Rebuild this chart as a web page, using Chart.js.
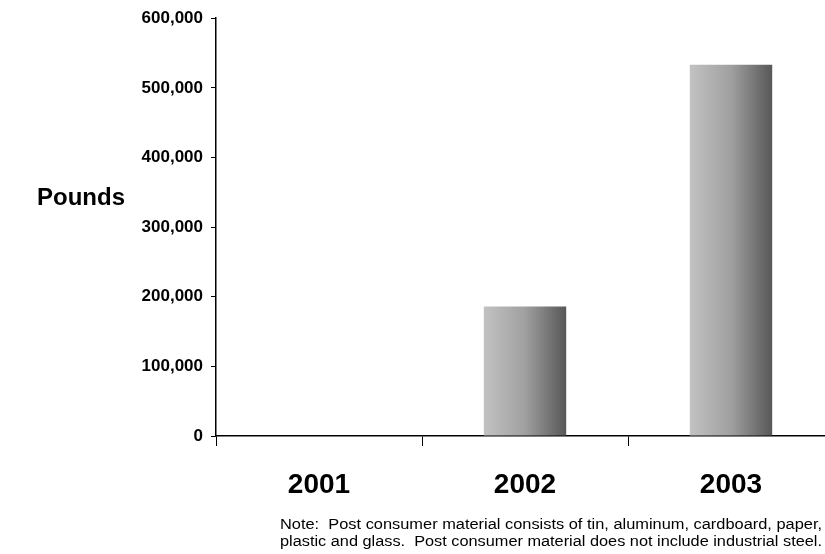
<!DOCTYPE html>
<html>
<head>
<meta charset="utf-8">
<script src="https://cdn.jsdelivr.net/npm/chart.js@4.4.0/dist/chart.umd.min.js"></script>
<style>
  html, body { margin: 0; padding: 0; overflow: hidden; background: #fff; }
  #wrap { position: relative; width: 836px; height: 554px; }
</style>
</head>
<body>
<div id="wrap"><canvas id="myChartCanvas" width="836" height="554"></canvas></div>
<script>
let yearLabels = ['2001', '2002', '2003'];
let poundValues = [0, 186000, 533000];
let yAxisTitle = 'Pounds';
let noteLines = [
    'Note:  Post consumer material consists of tin, aluminum, cardboard, paper,',
    'plastic and glass.  Post consumer material does not include industrial steel.'
];

let ctx;
let chart;

// gradient per bar, light on the left and dark on the right
function barGradient(context) {
    let c = context.chart;
    let xScale = c.scales.x;
    if (!c.chartArea || !xScale) {
        return '#a0a0a0';
    }
    let center = xScale.getPixelForValue(context.dataIndex);
    let half = (xScale.width / yearLabels.length) * 0.4 / 2;
    let g = c.ctx.createLinearGradient(center - half, 0, center + half, 0);
    g.addColorStop(0, '#c2c2c2');
    g.addColorStop(0.5, '#a0a0a0');
    g.addColorStop(1, '#575757');
    return g;
}

// "Pounds" label and the note under the chart
const extraText = {
    id: 'extraText',
    afterDraw(c) {
        let cx = c.ctx;
        cx.save();
        cx.fillStyle = '#000';
        cx.textBaseline = 'alphabetic';
        cx.textAlign = 'left';
        cx.font = 'bold 24px "Liberation Sans", Arial, sans-serif';
        cx.fillText(yAxisTitle, 37, 205);

        // the note is set a bit wide in the original, stretch it to fit
        cx.font = '14px "Liberation Sans", Arial, sans-serif';
        let lineY = [529, 546];
        noteLines.forEach(function (line, i) {
            let w = cx.measureText(line).width;
            let sx = 542 / w;
            cx.save();
            cx.translate(280, lineY[i]);
            cx.scale(sx, 1);
            cx.fillText(line, 0, 0);
            cx.restore();
        });
        cx.restore();
    }
};

ctx = document.getElementById('myChartCanvas').getContext('2d');
chart = new Chart(ctx, {
    type: 'bar',
    data: {
        labels: yearLabels,
        datasets: [{
            data: poundValues,
            backgroundColor: barGradient,
            borderWidth: 0,
            categoryPercentage: 1,
            barPercentage: 0.4
        }]
    },
    options: {
        responsive: false,
        animation: false,
        layout: {
            padding: { left: 0, right: 2, top: 15, bottom: 0 }
        },
        plugins: {
            legend: { display: false },
            tooltip: { enabled: false }
        },
        scales: {
            x: {
                grid: {
                    display: true,
                    offset: true,
                    drawOnChartArea: false,
                    drawTicks: true,
                    tickLength: 10,
                    color: '#000'
                },
                border: { display: true, color: '#000', width: 1.5 },
                ticks: {
                    color: '#000',
                    padding: 22,
                    font: { family: '"Liberation Sans", Arial, sans-serif', size: 28, weight: 'bold' }
                },
                afterFit: function (s) { s.height = 118; }
            },
            y: {
                min: 0,
                max: 600000,
                grid: {
                    display: true,
                    drawOnChartArea: false,
                    drawTicks: true,
                    tickLength: 5,
                    color: '#000'
                },
                border: { display: true, color: '#000', width: 1.5 },
                ticks: {
                    stepSize: 100000,
                    color: '#000',
                    padding: 8,
                    font: { family: '"Liberation Sans", Arial, sans-serif', size: 17, weight: 'bold' },
                    callback: function (value) { return value.toLocaleString('en-US'); }
                },
                afterFit: function (s) { s.width = 216; }
            }
        }
    },
    plugins: [extraText]
});
</script>
</body>
</html>
